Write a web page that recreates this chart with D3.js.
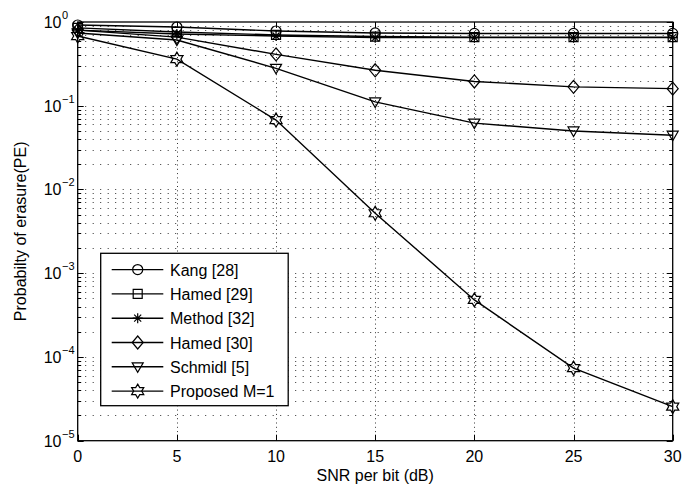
<!DOCTYPE html>
<html><head><meta charset="utf-8">
<script src="https://cdn.jsdelivr.net/npm/d3@7"></script>
<style>
html,body{margin:0;padding:0;background:#fff;}
text{font-family:"Liberation Sans",Arial,Helvetica,sans-serif;}
</style></head>
<body><svg id="chart" width="696" height="489"></svg>
<script>
// ---- data ----
const snr = [0, 5, 10, 15, 20, 25, 30];
const kang28   = [0.92, 0.87, 0.78, 0.74, 0.73, 0.73, 0.73];
const hamed29  = [0.85, 0.76, 0.70, 0.67, 0.66, 0.66, 0.66];
const method32 = [0.80, 0.72, 0.68, 0.65, 0.65, 0.65, 0.65];
const hamed30  = [0.80, 0.66, 0.41, 0.265, 0.195, 0.168, 0.16];
const schmidl5 = [0.74, 0.61, 0.28, 0.111, 0.062, 0.050, 0.0445];
const proposed = [0.68, 0.36, 0.0675, 0.0052, 0.00048, 0.0000735, 0.0000255];
const seriesNames = ["Kang [28]", "Hamed [29]", "Method [32]", "Hamed [30]", "Schmidl [5]", "Proposed M=1"];
const seriesMarkers = ["circle", "square", "asterisk", "diamond", "triangleDown", "hexagram"];
const xTicks = [0, 5, 10, 15, 20, 25, 30];
const yExponents = [0, -1, -2, -3, -4, -5];
const xLabel = "SNR per bit (dB)";
const yLabel = "Probabilty of erasure(PE)";

const allSeries = [kang28, hamed29, method32, hamed30, schmidl5, proposed];

// ---- layout ----
const W = 696, H = 489;
const m = {left: 77.7, right: 23.3, top: 22, bottom: 48.3};
const svg = d3.select("#chart");
const x = d3.scaleLinear().domain([0, 30]).range([m.left, W - m.right]);
const y = d3.scaleLog().domain([1e-5, 1]).range([H - m.bottom, m.top]);
const x0 = x.range()[0], x1 = x.range()[1], y0 = y.range()[0], y1 = y.range()[1];
const FS = 16;

// minor y values
const minorY = [];
for (let e = -5; e < 0; e++) for (let k = 2; k <= 9; k++) minorY.push(k * Math.pow(10, e));
const majorY = yExponents.map(e => Math.pow(10, e));

// ---- grid ----
const grid = svg.append("g").attr("stroke", "#333").attr("stroke-width", 1).attr("fill", "none");
grid.selectAll(".hg").data(majorY.concat(minorY).filter(v => v > 1e-5 && v < 1)).enter()
  .append("line")
  .attr("x1", x0).attr("x2", x1)
  .attr("y1", d => Math.round(y(d)) + 0.5).attr("y2", d => Math.round(y(d)) + 0.5)
  .attr("stroke-dasharray", "1,6.5");
grid.selectAll(".vg").data(xTicks.filter(v => v > 0 && v < 30)).enter()
  .append("line")
  .attr("y1", y0).attr("y2", y1)
  .attr("x1", d => Math.round(x(d)) + 0.5).attr("x2", d => Math.round(x(d)) + 0.5)
  .attr("stroke-dasharray", "1,3.3");

// ---- axes (ticks inward) ----
const axG = svg.append("g").attr("stroke", "#000").attr("stroke-width", 1);
const tMaj = 6, tMin = 3.5;
xTicks.forEach(v => {
  const px = Math.round(x(v)) + 0.5;
  axG.append("line").attr("x1", px).attr("x2", px).attr("y1", y0).attr("y2", y0 - tMaj);
  axG.append("line").attr("x1", px).attr("x2", px).attr("y1", y1).attr("y2", y1 + tMaj);
});
majorY.forEach(v => {
  const py = Math.round(y(v)) + 0.5;
  axG.append("line").attr("x1", x0).attr("x2", x0 + tMaj).attr("y1", py).attr("y2", py);
  axG.append("line").attr("x1", x1).attr("x2", x1 - tMaj).attr("y1", py).attr("y2", py);
});
minorY.forEach(v => {
  const py = Math.round(y(v)) + 0.5;
  axG.append("line").attr("x1", x0).attr("x2", x0 + tMin).attr("y1", py).attr("y2", py);
  axG.append("line").attr("x1", x1).attr("x2", x1 - tMin).attr("y1", py).attr("y2", py);
});
svg.append("rect").attr("x", x0).attr("y", y1).attr("width", x1 - x0).attr("height", y0 - y1)
  .attr("fill", "none").attr("stroke", "#000").attr("stroke-width", 1.3);

// tick labels
svg.append("g").selectAll("text").data(xTicks).enter().append("text")
  .attr("x", d => x(d)).attr("y", y0 + 21.5).attr("text-anchor", "middle")
  .attr("font-size", FS).text(d => d);
const yl = svg.append("g");
yExponents.forEach(e => {
  const ty = y(Math.pow(10, e));
  yl.append("text").attr("x", 61.5).attr("y", ty + 6).attr("text-anchor", "end")
    .attr("font-size", FS).text("10");
  yl.append("text").attr("x", 62).attr("y", ty - 3).attr("text-anchor", "start")
    .attr("font-size", 11).text(e === 0 ? "0" : "\u2212" + Math.abs(e));
});
svg.append("text").attr("x", (x0 + x1) / 2).attr("y", 481).attr("text-anchor", "middle")
  .attr("font-size", FS).text(xLabel);
svg.append("text").attr("transform", `translate(26,${(y0 + y1) / 2}) rotate(-90)`)
  .attr("text-anchor", "middle").attr("font-size", FS).text(yLabel);

// ---- markers ----
function markerPath(type) {
  switch (type) {
    case "circle": return d3.symbol(d3.symbolCircle, 80)();
    case "square": return "M-4.5,-4.5H4.5V4.5H-4.5Z";
    case "asterisk": return "M0,-5V5M-5,0H5M-3.5,-3.5L3.5,3.5M-3.5,3.5L3.5,-3.5";
    case "diamond": return "M0,-6.5L5.5,0L0,6.5L-5.5,0Z";
    case "triangleDown": return "M-5.5,-4L5.5,-4L0,5.5Z";
    case "hexagram": {
      const pts = [];
      for (let i = 0; i < 12; i++) {
        const r = i % 2 === 0 ? 7 : 4.04;
        const a = -Math.PI / 2 + i * Math.PI / 6;
        pts.push([r * Math.cos(a), r * Math.sin(a)]);
      }
      return "M" + pts.map(p => p[0].toFixed(2) + "," + p[1].toFixed(2)).join("L") + "Z";
    }
  }
}

const line = d3.line().x((d, i) => x(snr[i])).y(d => y(d));
const plot = svg.append("g");
allSeries.forEach((s, k) => {
  plot.append("path").datum(s).attr("d", line)
    .attr("fill", "none").attr("stroke", "#000").attr("stroke-width", 1.4);
  plot.selectAll(null).data(s).enter().append("path")
    .attr("transform", (d, i) => `translate(${x(snr[i])},${y(d)})`)
    .attr("d", markerPath(seriesMarkers[k]))
    .attr("fill", "none").attr("stroke", "#000").attr("stroke-width", 1.2);
});

// ---- legend ----
const lg = svg.append("g");
const lx = 100.7, ly = 253.3, lw = 187.5, lh = 152.4, rowH = 24.3;
lg.append("rect").attr("x", lx).attr("y", ly).attr("width", lw).attr("height", lh)
  .attr("fill", "#fff").attr("stroke", "#000").attr("stroke-width", 1.3);
seriesNames.forEach((name, k) => {
  const cy = ly + 16.3 + k * rowH;
  lg.append("line").attr("x1", lx + 11).attr("x2", lx + 62.6).attr("y1", cy).attr("y2", cy)
    .attr("stroke", "#000").attr("stroke-width", 1.4);
  lg.append("path").attr("transform", `translate(${lx + 37},${cy})`)
    .attr("d", markerPath(seriesMarkers[k])).attr("fill", "none")
    .attr("stroke", "#000").attr("stroke-width", 1.2);
  lg.append("text").attr("x", lx + 69.3).attr("y", cy + 6).attr("font-size", FS).text(name);
});
</script>
</body></html>
